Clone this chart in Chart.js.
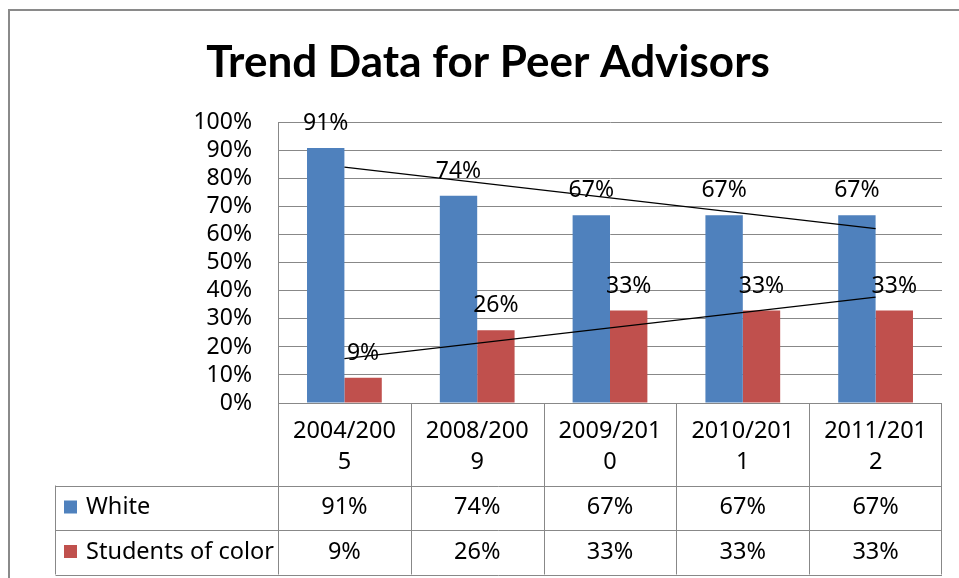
<!DOCTYPE html>
<html>
<head>
<meta charset="utf-8">
<script src="https://cdn.jsdelivr.net/npm/chart.js@4/dist/chart.umd.min.js"></script>
<style>
    body { margin: 0; background: #fff; }
    #wrap { position: relative; width: 959px; height: 578px; overflow: hidden; }
    #frame {
        position: absolute; left: 8px; top: 9px; width: 1000px; height: 1000px;
        border: 2px solid #8a8a8a; pointer-events: none;
    }
</style>
</head>
<body>
<div id="wrap">
    <canvas id="chart" width="959" height="578"></canvas>
    <div id="frame"></div>
</div>
<script>
const categories = ['2004/2005', '2008/2009', '2009/2010', '2010/2011', '2011/2012'];
const seriesNames = ['White', 'Students of color'];
const white = [91, 74, 67, 67, 67];
const studentsOfColor = [9, 26, 33, 33, 33];
// linear trend lines, end points
const whiteTrend = [84.2, null, null, null, 62.2];
const colorTrend = [15.8, null, null, null, 37.8];

const BLUE = '#4f81bd';
const RED = '#c0504d';
const GRID = '#888888';
const FONT = 'Noto Sans';

Chart.defaults.font.family = FONT;
Chart.defaults.color = '#000';

// value labels above the bars
const barLabels = {
    id: 'barLabels',
    afterDatasetsDraw(chart) {
        const ctx = chart.ctx;
        ctx.save();
        ctx.font = '23px "' + FONT + '"';
        ctx.fillStyle = '#000';
        ctx.textAlign = 'center';
        ctx.textBaseline = 'alphabetic';
        chart.data.datasets.forEach((ds, i) => {
            if (ds.type === 'line') return;
            chart.getDatasetMeta(i).data.forEach((bar, j) => {
                ctx.fillText(ds.data[j] + '%', bar.x, bar.y - 18);
            });
        });
        ctx.restore();
    }
};

// category labels + data table under the plot
const dataTable = {
    id: 'dataTable',
    afterDraw(chart) {
        const { ctx, chartArea: area, scales: { x } } = chart;
        const half = (x.getPixelForValue(1) - x.getPixelForValue(0)) / 2;
        const axisY = Math.round(area.bottom) + 0.5;
        const tableTop = 485.5;
        const rowH = 44.5;
        const tableLeft = 55.5;
        const tableBottom = tableTop + rowH * 2;

        ctx.save();
        ctx.strokeStyle = GRID;
        ctx.lineWidth = 1;
        ctx.beginPath();
        // horizontal lines
        ctx.moveTo(area.left, axisY); ctx.lineTo(area.right, axisY);
        for (let r = 0; r <= 2; r++) {
            const y = Math.round(tableTop + rowH * r) + 0.5;
            ctx.moveTo(tableLeft, y); ctx.lineTo(area.right, y);
        }
        // vertical lines at category borders
        categories.forEach((c, i) => {
            const bx = Math.round(x.getPixelForValue(i) - half) + 0.5;
            ctx.moveTo(bx, axisY); ctx.lineTo(bx, tableBottom);
        });
        const rx = Math.round(area.right) - 0.5;
        ctx.moveTo(rx, axisY); ctx.lineTo(rx, tableBottom);
        ctx.moveTo(tableLeft, tableTop); ctx.lineTo(tableLeft, tableBottom);
        ctx.stroke();

        ctx.fillStyle = '#000';
        ctx.font = '23.5px "' + FONT + '"';
        ctx.textBaseline = 'alphabetic';
        ctx.textAlign = 'center';

        // wrapped category labels
        categories.forEach((c, i) => {
            const cx = x.getPixelForValue(i);
            ctx.fillText(c.slice(0, 8), cx, 438);
            ctx.fillText(c.slice(8), cx, 469);
        });

        // table rows
        const rows = [white, studentsOfColor];
        const colors = [BLUE, RED];
        rows.forEach((vals, r) => {
            const top = tableTop + rowH * r;
            const base = top + 28.5;
            ctx.fillStyle = colors[r];
            ctx.fillRect(64, top + 15, 13, 13);
            ctx.fillStyle = '#000';
            ctx.textAlign = 'left';
            ctx.fillText(seriesNames[r], 86, base);
            ctx.textAlign = 'center';
            vals.forEach((v, i) => {
                ctx.fillText(v + '%', x.getPixelForValue(i), base);
            });
        });
        ctx.restore();
    }
};

new Chart(document.getElementById('chart'), {
    data: {
        labels: categories,
        datasets: [
            {
                type: 'line', label: 'Linear (White)', data: whiteTrend,
                borderColor: '#000', borderWidth: 1.3, pointRadius: 0,
                spanGaps: true, order: 0
            },
            {
                type: 'line', label: 'Linear (Students of color)', data: colorTrend,
                borderColor: '#000', borderWidth: 1.3, pointRadius: 0,
                spanGaps: true, order: 0
            },
            {
                type: 'bar', label: seriesNames[0], data: white,
                backgroundColor: BLUE, order: 1
            },
            {
                type: 'bar', label: seriesNames[1], data: studentsOfColor,
                backgroundColor: RED, order: 1
            }
        ]
    },
    options: {
        responsive: false,
        animation: false,
        events: [],
        layout: { padding: { left: 34, right: 17, top: 0, bottom: 0 } },
        datasets: {
            bar: { barPercentage: 1, categoryPercentage: 0.563 }
        },
        plugins: {
            legend: { display: false },
            tooltip: { enabled: false },
            title: {
                display: true,
                text: 'Trend Data for Peer Advisors',
                color: '#000',
                font: { family: 'Lato', size: 44, weight: 'bold', lineHeight: 1.2 },
                padding: { top: 36, bottom: 34 }
            }
        },
        scales: {
            x: {
                type: 'category',
                offset: true,
                grid: { display: false },
                border: { display: false },
                ticks: { display: false },
                afterFit(scale) { scale.height = 175; }
            },
            y: {
                min: 0,
                max: 100,
                grid: { color: GRID, drawTicks: false },
                border: { color: GRID },
                ticks: {
                    stepSize: 10,
                    autoSkip: false,
                    padding: 26,
                    font: { size: 23 },
                    color: '#000',
                    callback: v => v + '%'
                },
                afterFit(scale) { scale.width = 244; }
            }
        }
    },
    plugins: [barLabels, dataTable]
});
</script>
</body>
</html>
